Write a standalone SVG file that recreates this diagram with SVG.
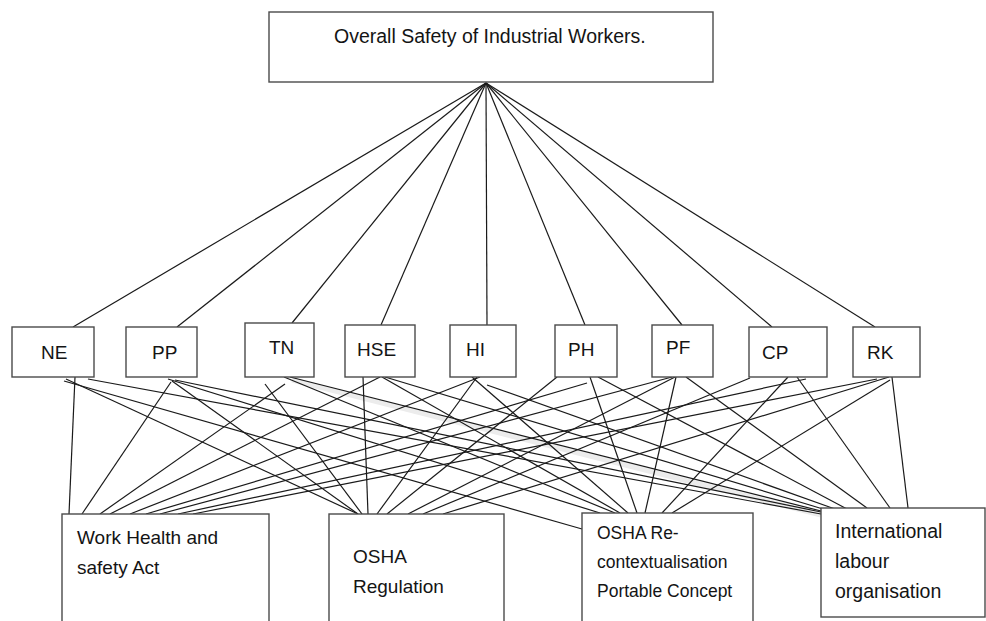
<svg xmlns="http://www.w3.org/2000/svg" width="986" height="621" viewBox="0 0 986 621">
<style>
.box{fill:#fff;stroke:#4a4a4a;stroke-width:1.4}
.t{font-family:"Liberation Sans",Arial,sans-serif;fill:#141414}
.m{font-size:19px}
.c line{stroke:#1a1a1a;stroke-width:1.2}
</style>
<rect width="986" height="621" fill="#fff"/>
<g id="connectors" class="c">
<line x1="292" y1="380" x2="821" y2="515" style="stroke:#ececec;stroke-width:5"/>
<line x1="486" y1="83" x2="73" y2="327"/>
<line x1="486" y1="83" x2="177" y2="327"/>
<line x1="486" y1="83" x2="292" y2="323"/>
<line x1="486" y1="83" x2="381" y2="325"/>
<line x1="486" y1="83" x2="487" y2="325"/>
<line x1="486" y1="83" x2="585" y2="325"/>
<line x1="486" y1="83" x2="682" y2="325"/>
<line x1="486" y1="83" x2="772" y2="327"/>
<line x1="486" y1="83" x2="875" y2="327"/>
<line x1="75" y1="377" x2="69" y2="514"/>
<line x1="66" y1="379" x2="358" y2="514"/>
<line x1="64" y1="381" x2="582" y2="529"/>
<line x1="88" y1="379" x2="821" y2="514"/>
<line x1="171" y1="382" x2="82" y2="514"/>
<line x1="172" y1="381" x2="358" y2="514"/>
<line x1="168" y1="379" x2="600" y2="513"/>
<line x1="175" y1="380" x2="821" y2="512"/>
<line x1="285" y1="384" x2="100" y2="514"/>
<line x1="265" y1="384" x2="362" y2="514"/>
<line x1="284" y1="377" x2="615" y2="513"/>
<line x1="290" y1="377" x2="821" y2="511"/>
<line x1="380" y1="377" x2="110" y2="514"/>
<line x1="363" y1="377" x2="368" y2="514"/>
<line x1="382" y1="377" x2="620" y2="513"/>
<line x1="385" y1="377" x2="823" y2="509"/>
<line x1="480" y1="377" x2="130" y2="514"/>
<line x1="477" y1="377" x2="377" y2="514"/>
<line x1="472" y1="377" x2="628" y2="513"/>
<line x1="487" y1="385" x2="835" y2="509"/>
<line x1="587" y1="383" x2="146" y2="514"/>
<line x1="557" y1="377" x2="387" y2="514"/>
<line x1="590" y1="377" x2="637" y2="513"/>
<line x1="598" y1="377" x2="847" y2="509"/>
<line x1="672" y1="377" x2="160" y2="514"/>
<line x1="675" y1="377" x2="408" y2="514"/>
<line x1="676" y1="377" x2="645" y2="513"/>
<line x1="686" y1="377" x2="867" y2="508"/>
<line x1="806" y1="379" x2="178" y2="514"/>
<line x1="750" y1="378" x2="423" y2="514"/>
<line x1="788" y1="377" x2="662" y2="513"/>
<line x1="797" y1="377" x2="890" y2="508"/>
<line x1="877" y1="379" x2="193" y2="514"/>
<line x1="889" y1="377" x2="443" y2="514"/>
<line x1="890" y1="380" x2="672" y2="513"/>
<line x1="892" y1="377" x2="908" y2="508"/>
</g>
<g id="top"><rect class="box" x="269" y="12" width="444" height="70"/><text class="t" x="334" y="43" font-size="19.5">Overall Safety of Industrial Workers.</text></g>
<g id="NE"><rect class="box" x="12" y="327" width="82" height="50"/><text class="t m" x="41" y="359">NE</text></g>
<g id="PP"><rect class="box" x="126" y="327" width="71" height="50"/><text class="t m" x="152" y="359">PP</text></g>
<g id="TN"><rect class="box" x="245" y="323" width="69" height="54"/><text class="t m" x="269" y="354">TN</text></g>
<g id="HSE"><rect class="box" x="345" y="325" width="70" height="52"/><text class="t m" x="357" y="356">HSE</text></g>
<g id="HI"><rect class="box" x="450" y="325" width="66" height="52"/><text class="t m" x="466" y="356">HI</text></g>
<g id="PH"><rect class="box" x="555" y="325" width="62" height="52"/><text class="t m" x="568" y="356">PH</text></g>
<g id="PF"><rect class="box" x="652" y="325" width="61" height="52"/><text class="t m" x="666" y="354">PF</text></g>
<g id="CP"><rect class="box" x="749" y="327" width="78" height="50"/><text class="t m" x="762" y="359">CP</text></g>
<g id="RK"><rect class="box" x="853" y="327" width="67" height="50"/><text class="t m" x="867" y="359">RK</text></g>
<g id="WH"><rect class="box" x="62" y="514" width="207" height="120"/><text class="t" font-size="19"><tspan x="77" y="544">Work Health and</tspan><tspan x="77" y="574">safety Act</tspan></text></g>
<g id="OR"><rect class="box" x="329" y="514" width="175" height="120"/><text class="t" font-size="19"><tspan x="353" y="563">OSHA</tspan><tspan x="353" y="593">Regulation</tspan></text></g>
<g id="ORC"><rect class="box" x="582" y="513" width="171" height="120"/><text class="t" font-size="17.5"><tspan x="597" y="539">OSHA Re-</tspan><tspan x="597" y="568">contextualisation</tspan><tspan x="597" y="597">Portable Concept</tspan></text></g>
<g id="ILO"><rect class="box" x="821" y="508" width="164" height="109"/><text class="t" font-size="19.5"><tspan x="835" y="538">International</tspan><tspan x="835" y="568">labour</tspan><tspan x="835" y="598">organisation</tspan></text></g>
</svg>
